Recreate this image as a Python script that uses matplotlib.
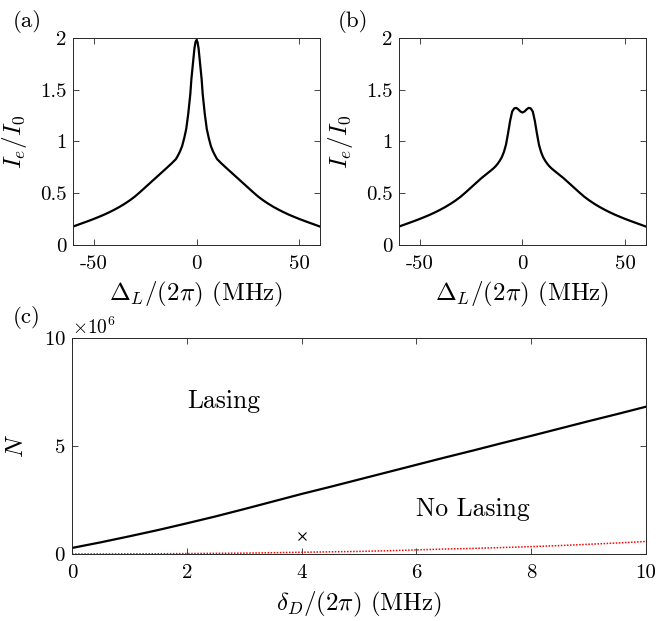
import numpy as np
import matplotlib
matplotlib.use("Agg")
import matplotlib.pyplot as plt
from matplotlib.ticker import FuncFormatter, ScalarFormatter

plt.rcParams["font.family"] = "serif"
plt.rcParams["font.serif"] = ["cmr10"]
plt.rcParams["mathtext.fontset"] = "cm"
plt.rcParams["axes.formatter.use_mathtext"] = True
plt.rcParams["axes.unicode_minus"] = False

# panel (a): single sharp peak
det_a = [-60, -57.5, -55, -52.5, -50, -47.5, -45, -42.5, -40, -37.5, -35, -32.5, -30, -27.5, -25, -22.5, -20, -17.5, -15, -12,
         -10, -9, -8, -7, -6, -5, -4, -3, -2.5, -2, -1.5, -1, -0.5,
         0, 0.5, 1, 1.5, 2, 2.5, 3, 4, 5, 6, 7, 8, 9, 10,
         12, 15, 17.5, 20, 22.5, 25, 27.5, 30, 32.5, 35, 37.5, 40, 42.5, 45, 47.5, 50, 52.5, 55, 57.5, 60]
ie_a = [0.178, 0.196, 0.214, 0.232, 0.251, 0.271, 0.292, 0.315, 0.34, 0.367, 0.397, 0.43, 0.467, 0.51, 0.555, 0.6, 0.645, 0.69, 0.735, 0.79,
        0.83, 0.865, 0.905, 0.955, 1.03, 1.12, 1.27, 1.46, 1.6, 1.7, 1.8, 1.9, 1.96,
        1.98, 1.96, 1.9, 1.8, 1.7, 1.6, 1.46, 1.27, 1.12, 1.03, 0.955, 0.905, 0.865, 0.83,
        0.79, 0.735, 0.69, 0.645, 0.6, 0.555, 0.51, 0.467, 0.43, 0.397, 0.367, 0.34, 0.315, 0.292, 0.271, 0.251, 0.232, 0.214, 0.196, 0.178]

# panel (b): split peak
det_b = [-60, -57.5, -55, -52.5, -50, -47.5, -45, -42.5, -40, -37.5, -35, -32.5, -30, -27.5, -25, -22.5, -20, -17.5,
         -15, -14, -13, -12, -11, -10, -9, -8, -7, -6, -5, -4, -3, -2, -1,
         0, 1, 2, 3, 4, 5, 6, 7, 8, 9, 10, 11, 12, 13, 14, 15,
         17.5, 20, 22.5, 25, 27.5, 30, 32.5, 35, 37.5, 40, 42.5, 45, 47.5, 50, 52.5, 55, 57.5, 60]
ie_b = [0.178, 0.196, 0.214, 0.232, 0.251, 0.271, 0.292, 0.315, 0.34, 0.367, 0.397, 0.43, 0.467, 0.51, 0.555, 0.6, 0.645, 0.685,
        0.725, 0.742, 0.762, 0.786, 0.815, 0.85, 0.9, 0.97, 1.08, 1.2, 1.29, 1.32, 1.325, 1.31, 1.29,
        1.28, 1.29, 1.31, 1.325, 1.32, 1.29, 1.2, 1.08, 0.97, 0.9, 0.85, 0.815, 0.786, 0.762, 0.742, 0.725,
        0.685, 0.645, 0.6, 0.555, 0.51, 0.467, 0.43, 0.397, 0.367, 0.34, 0.315, 0.292, 0.271, 0.251, 0.232, 0.214, 0.196, 0.178]

# panel (c): lasing threshold (N in units of 1e6)
delta_d = [0, 0.5, 1, 1.5, 2, 2.5, 3, 3.5, 4, 4.5, 5, 5.5, 6, 6.5, 7, 7.5, 8, 8.5, 9, 9.5, 10]
n_thresh = [0.28, 0.54, 0.82, 1.11, 1.42, 1.74, 2.08, 2.43, 2.78, 3.11, 3.45, 3.79, 4.13, 4.47, 4.8, 5.14, 5.47, 5.81, 6.15, 6.48, 6.82]
n_red = [0.0, 0.002, 0.005, 0.01, 0.02, 0.03, 0.04, 0.06, 0.08, 0.1, 0.12, 0.15, 0.19, 0.23, 0.26, 0.3, 0.34, 0.39, 0.45, 0.51, 0.58]
marker_pt = (4, 0.82)

AX_COLOR = "0.15"
TICK_FS = 15
LABEL_FS = 18


def style_axes(ax):
    ax.tick_params(direction="in", length=4, width=0.6, top=True, right=True,
                   labelsize=TICK_FS, colors=AX_COLOR, labelcolor="black")
    ax.tick_params(axis="x", pad=7)
    ax.tick_params(axis="y", pad=4.5)
    for s in ax.spines.values():
        s.set_color(AX_COLOR)
        s.set_linewidth(0.7)


fig = plt.figure(figsize=(6.56, 6.21), dpi=100)
ax_a = fig.add_axes([0.1113, 0.6055, 0.3765, 0.3333])
ax_b = fig.add_axes([0.6082, 0.6055, 0.3765, 0.3333])
ax_c = fig.add_axes([0.1098, 0.1079, 0.8750, 0.3478])

int_fmt = FuncFormatter(lambda v, p: "%g" % v)

for ax, x, y in [(ax_a, det_a, ie_a), (ax_b, det_b, ie_b)]:
    ax.plot(x, y, color="black", lw=1.6)
    ax.set_xlim(-60, 60)
    ax.set_ylim(0, 2)
    ax.set_xticks([-50, 0, 50])
    ax.set_yticks([0, 0.5, 1, 1.5, 2])
    ax.xaxis.set_major_formatter(int_fmt)
    ax.yaxis.set_major_formatter(int_fmt)
    ax.set_xlabel(r"$\Delta_L/(2\pi)$ (MHz)", fontsize=LABEL_FS, labelpad=5)
    ax.set_ylabel(r"$I_e/I_0$", fontsize=LABEL_FS, labelpad=8)
    style_axes(ax)

ax_c.plot(delta_d, np.array(n_thresh) * 1e6, color="black", lw=1.6)
ax_c.plot(delta_d, np.array(n_red) * 1e6, color="red", lw=1.1, ls=(0, (1, 1)))
ax_c.plot(marker_pt[0], marker_pt[1] * 1e6, marker="x", color="black", ms=6, mew=0.8)
ax_c.set_xlim(0, 10)
ax_c.set_ylim(0, 1e7)
ax_c.set_xticks([0, 2, 4, 6, 8, 10])
ax_c.set_yticks([0, 5e6, 1e7])
ax_c.xaxis.set_major_formatter(int_fmt)
sf = ScalarFormatter(useMathText=True)
sf.set_powerlimits((6, 6))
ax_c.yaxis.set_major_formatter(sf)
ax_c.set_xlabel(r"$\delta_D/(2\pi)$ (MHz)", fontsize=LABEL_FS, labelpad=6)
ax_c.set_ylabel(r"$N$", fontsize=LABEL_FS, labelpad=11)
ax_c.text(2, 7.08e6, "Lasing", fontsize=18.5, va="center", ha="left")
ax_c.text(6, 2.08e6, "No Lasing", fontsize=18.5, va="center", ha="left")
style_axes(ax_c)
ax_c.yaxis.get_offset_text().set_fontsize(14)
ax_c.yaxis.get_offset_text().set_color("black")

fig.text(0.019, 0.966, "(a)", fontsize=16.5, va="center", ha="left")
fig.text(0.515, 0.966, "(b)", fontsize=16.5, va="center", ha="left")
fig.text(0.020, 0.488, "(c)", fontsize=16.5, va="center", ha="left")

fig.savefig("out.png", dpi=100)
